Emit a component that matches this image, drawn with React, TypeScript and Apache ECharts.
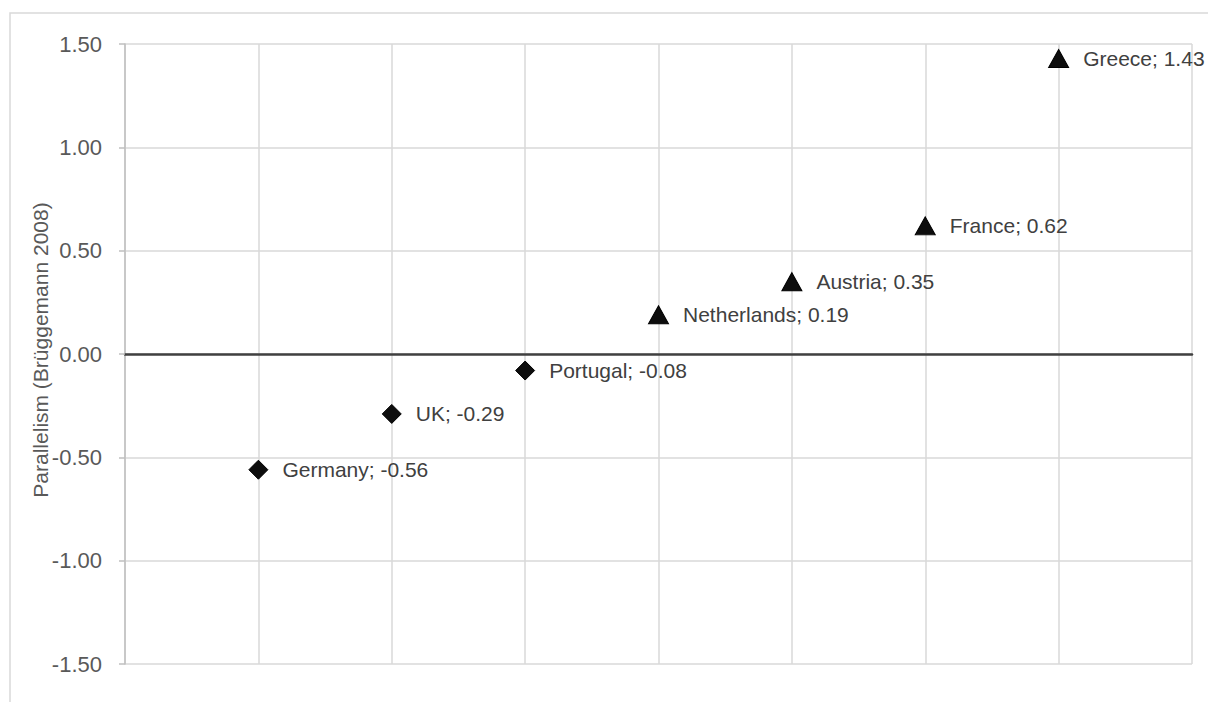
import React, { useEffect, useRef } from "react";
import * as echarts from "echarts";

// Countries in order along the horizontal axis, with their parallelism scores
const diamondCountries = ["Germany", "UK", "Portugal"];
const diamondValues = [-0.56, -0.29, -0.08];
const triangleCountries = ["Netherlands", "Austria", "France", "Greece"];
const triangleValues = [0.19, 0.35, 0.62, 1.43];

const yTicks = { min: -1.5, max: 1.5, step: 0.5 };
const axisTitle = "Parallelism (Brüggemann 2008)";

const FONT = "'Liberation Sans', Arial, sans-serif";

export default function App() {
  const ref = useRef<HTMLDivElement>(null);

  useEffect(() => {
    if (!ref.current) return;
    const chart = echarts.init(ref.current, undefined, { renderer: "svg" });

    const diamondData = diamondCountries.map((name, i) => ({
      name,
      value: [i + 1, diamondValues[i]],
    }));
    const triangleData = triangleCountries.map((name, i) => ({
      name,
      value: [diamondCountries.length + i + 1, triangleValues[i]],
    }));

    const label = {
      show: true,
      position: "right" as const,
      distance: 14,
      color: "#404040",
      fontSize: 21,
      fontFamily: FONT,
      formatter: (p: any) => `${p.name}; ${p.value[1].toFixed(2)}`,
    };

    const markStyle = {
      color: "#0d0d0d",
      borderColor: "#000000",
      borderWidth: 1,
      opacity: 1,
    };

    chart.setOption({
      animation: false,
      backgroundColor: "#ffffff",
      grid: { left: 125, right: 16, top: 44, bottom: 38 },
      xAxis: {
        type: "value",
        min: 0,
        max: 8,
        interval: 1,
        axisLine: { show: true, onZero: true, lineStyle: { color: "#404040", width: 2.5 } },
        axisTick: { show: false },
        axisLabel: { show: false },
        splitLine: { show: true, lineStyle: { color: "#d9d9d9", width: 1.5 } },
      },
      yAxis: {
        type: "value",
        min: yTicks.min,
        max: yTicks.max,
        interval: yTicks.step,
        axisLine: { show: true, onZero: false, lineStyle: { color: "#bfbfbf", width: 1.5 } },
        axisTick: { show: true, length: 6, lineStyle: { color: "#bfbfbf", width: 1.5 } },
        axisLabel: {
          color: "#595959",
          fontSize: 22,
          fontFamily: FONT,
          margin: 23,
          formatter: (v: number) => v.toFixed(2),
        },
        splitLine: { show: true, lineStyle: { color: "#d9d9d9", width: 1.5 } },
      },
      graphic: [
        {
          type: "rect",
          silent: true,
          shape: { x: 10, y: 13, width: 1240, height: 740 },
          style: { fill: "none", stroke: "#d9d9d9", lineWidth: 1.5 },
          z: -1,
        },
        {
          type: "text",
          x: 40,
          y: 350,
          rotation: Math.PI / 2,
          style: {
            text: axisTitle,
            fill: "#595959",
            fontSize: 21,
            fontFamily: FONT,
            align: "center",
            verticalAlign: "middle",
          },
        },
      ],
      series: [
        {
          type: "scatter",
          symbol: "diamond",
          symbolSize: 19,
          itemStyle: markStyle,
          emphasis: { disabled: true },
          label,
          data: diamondData,
          z: 5,
        },
        {
          type: "scatter",
          symbol: "triangle",
          symbolSize: [20, 18],
          itemStyle: markStyle,
          emphasis: { disabled: true },
          label,
          data: triangleData,
          z: 5,
        },
      ],
    });

    return () => chart.dispose();
  }, []);

  return (
    <div
      ref={ref}
      style={{ position: "fixed", left: 0, top: 0, width: 1208, height: 702 }}
    />
  );
}
